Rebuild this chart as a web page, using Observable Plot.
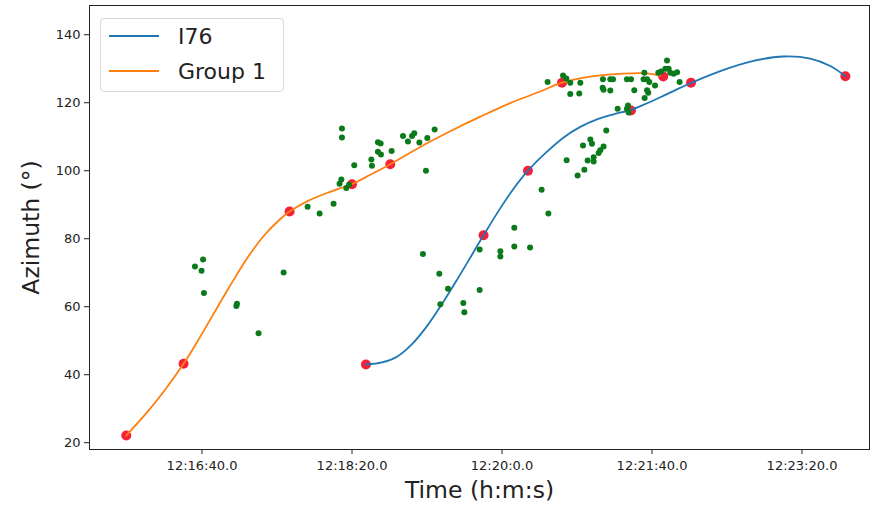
<!DOCTYPE html>
<html><head><meta charset="utf-8">
<script src="https://cdn.jsdelivr.net/npm/d3@7"></script>
<script src="https://cdn.jsdelivr.net/npm/@observablehq/plot@0.6"></script>
<style>
body{margin:0;background:#fff;font-family:"DejaVu Sans",sans-serif;}
#wrap{position:relative;width:877px;height:505px;}
.legend{position:absolute;left:100px;top:18px;width:184px;height:74px;border:1px solid #d8d8d8;border-radius:4px;background:rgba(255,255,255,0.85);box-sizing:border-box;}
.legend .row{position:absolute;left:0;height:30px;display:flex;align-items:center;}
.legend .sw{width:50px;height:0;border-top:2px solid;margin-left:8px;margin-right:19px;}
.legend .lab{font-size:22px;color:#222;}
g[aria-label="x-axis label"] text, g[aria-label="y-axis label"] text{font-size:23.5px;fill:#222;}
</style>
</head><body>
<div id="wrap"></div>
<script>
// seconds after 12:00:00
const xTicks = [1000, 1100, 1200, 1300, 1400];
const xTickLabels = ["12:16:40.0", "12:18:20.0", "12:20:0.0", "12:21:40.0", "12:23:20.0"];
const yTicks = [20, 40, 60, 80, 100, 120, 140];
const seriesNames = ["I76", "Group 1"];
const seriesColors = ["#1f77b4", "#ff7f0e"];

// fitted track I76 (blue)
const i76Time = [1109.3,1120,1130,1140,1150,1160,1170,1180,1187.7,1198.9,1207.7,1217.3,1230,1241.1,1252.2,1263.3,1274.4,1286,1296,1306,1316,1326,1345.5,1367.7,1387.7,1405.5,1418.9,1428.9];
const i76Az   = [43.0,43.6,45.3,49.0,54.3,60.8,67.9,75.3,81.0,89.0,94.7,100.0,105.6,109.8,112.9,115.1,116.6,117.9,119.7,121.7,123.8,125.8,129.3,132.3,133.6,133.0,130.8,127.8];

// fitted track Group 1 (orange)
const g1Time = [949.5,963.3,974.4,987.7,996.7,1007.7,1018.9,1030,1041.1,1052.2,1058.4,1070,1085.5,1100,1112.2,1125.5,1145.5,1165.5,1185.5,1205.5,1225.5,1240,1258.9,1278.9,1294.4,1305.5];
const g1Az   = [22.1,28.9,35.0,43.2,49.6,57.9,66.3,74.2,80.8,85.8,88.0,91.0,93.8,96.1,98.8,101.9,107.0,111.6,115.9,119.9,123.3,125.9,127.7,128.5,128.7,128.0];

// key points (red)
const keyTime = [949.5,987.7,1058.4,1100,1125.5,1240,1307.5, 1109.3,1187.7,1217.3,1286,1326,1428.9];
const keyAz   = [22.1,43.2,88.0,96.0,101.9,125.9,127.7, 43.0,81.0,100.0,117.7,125.9,127.8];

// detections (green)
const detTime = [1000.7,995.3,999.7,1001.3,1023.3,1022.9,1037.7,1054.4,
 1093.3,1093.3,1070.4,1078.4,1087.7,1092.9,1091.7,1096.2,1098,1101.5,1112.9,1113.3,1117.3,1119.1,1117.3,1119.3,1126.4,1134,1137.3,1140,1141.5,1144.9,1150.2,1155.1,1149.3,
 1226.4,1230.9,1208.2,1185.1,1198.9,1198.9,1208.2,1218.7,1147.3,1158.2,1164,1158.9,1185.1,1174.2,1174.9,
 1230.4,1240.7,1242.9,1245.5,1252.2,1245.5,1251.5,1267.3,1272.2,1274,1267.1,1267.7,1272.2,1283.3,1286,1288.2,1294.9,1294.4,1296.7,1298.2,1296.7,1297.5,1295.1,1302,1304.2,1306,1310,1308.9,1311.1,1312.2,1314.4,1316.7,1318.4,1277.1,1283.3,1284.4,1284,
 1269.5,1258.9,1260,1254,1267.7,1265.5,1264.4,1261.1,1257.1,1261.1,1243.1,1254.9,1250.4];
const detAz = [73.9,71.8,70.6,64.0,60.9,60.2,52.2,70.1,
 112.4,109.8,89.4,87.4,90.3,97.4,96.2,94.9,95.9,101.6,103.3,101.5,108.4,108.0,105.6,104.8,105.8,110.2,108.6,110.2,111.0,108.3,109.6,112.1,100.0,
 94.4,87.4,83.2,76.8,76.3,74.8,77.7,77.4,75.5,69.7,65.3,60.7,64.9,61.1,58.4,
 126.1,128.0,127.1,125.9,125.9,122.6,122.7,126.9,126.9,126.9,124.4,123.8,123.6,126.9,126.9,123.7,128.8,126.9,126.9,126.1,123.7,122.9,121.4,125.1,128.8,129.2,132.4,130,130,128.8,128.5,129.0,126.1,118.2,118.2,117.1,119.2,
 111.8,109.2,107.9,107.4,107.1,106,105.2,104,103,102.7,103.1,100.3,98.6];

const i76 = i76Time.map((t, i) => ({t, a: i76Az[i]}));
const g1 = g1Time.map((t, i) => ({t, a: g1Az[i]}));
const keys = keyTime.map((t, i) => ({t, a: keyAz[i]}));
const dets = detTime.map((t, i) => ({t, a: detAz[i]}));

const chart = Plot.plot({
  width: 877, height: 505,
  marginLeft: 89, marginRight: 8, marginTop: 5, marginBottom: 56,
  style: {fontFamily: "DejaVu Sans, sans-serif", fontSize: "13px", color: "#222", background: "#fff"},
  x: {domain: [925, 1445]},
  y: {domain: [18, 148.6]},
  marks: [
    Plot.frame({stroke: "#222", strokeWidth: 1}),
    Plot.dot(keys, {x: "t", y: "a", r: 5, fill: "#f5203a", stroke: "none"}),
    Plot.line(i76, {x: "t", y: "a", curve: "catmull-rom", stroke: seriesColors[0], strokeWidth: 1.8}),
    Plot.line(g1, {x: "t", y: "a", curve: "catmull-rom", stroke: seriesColors[1], strokeWidth: 1.8}),
    Plot.dot(dets, {x: "t", y: "a", r: 3, fill: "#0a7a1a", stroke: "none"}),
    Plot.axisX({ticks: xTicks, tickFormat: d => xTickLabels[xTicks.indexOf(d)], tickSize: 5, tickPadding: 6, label: "Time (h:m:s)", labelAnchor: "center", labelArrow: "none", labelOffset: 48}),
    Plot.axisY({ticks: yTicks, tickSize: 5, tickPadding: 4, label: "Azimuth (°)", labelAnchor: "center", labelArrow: "none", labelOffset: 67})
  ]
});
const wrap = document.getElementById("wrap");
wrap.appendChild(chart);
const leg = document.createElement("div");
leg.className = "legend";
seriesNames.forEach((n, i) => {
  const row = document.createElement("div");
  row.className = "row";
  row.style.top = (2 + i * 35) + "px";
  row.innerHTML = `<div class="sw" style="border-color:${seriesColors[i]}"></div><span class="lab">${n}</span>`;
  leg.appendChild(row);
});
wrap.appendChild(leg);
</script>
</body></html>
